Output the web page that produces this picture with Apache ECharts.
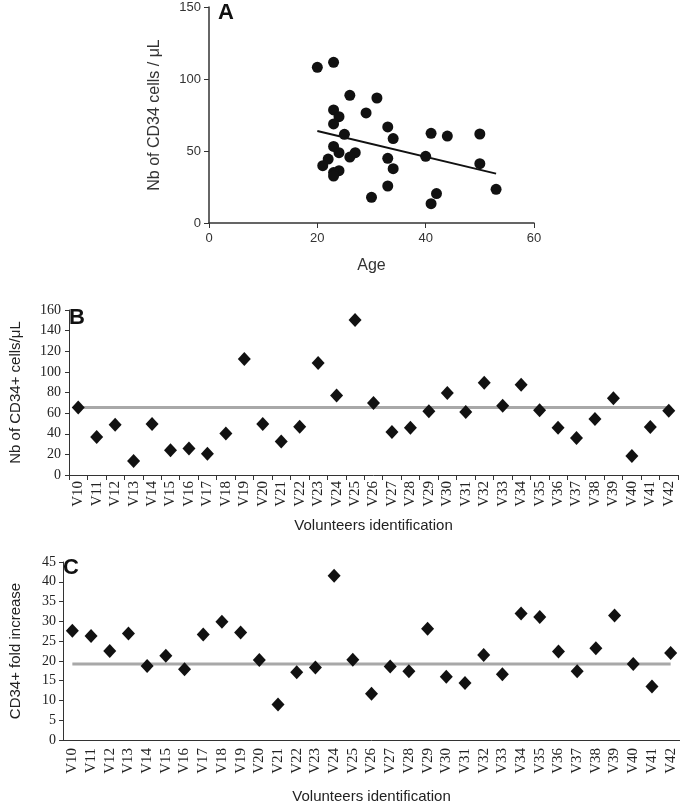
<!DOCTYPE html>
<html><head><meta charset="utf-8">
<script src="https://cdn.jsdelivr.net/npm/echarts@6/dist/echarts.min.js"></script>
<style>html,body{margin:0;padding:0;background:#fff}#c{width:680px;height:805px}</style>
</head><body><div id="c"></div>
<script>
// Panel A: age vs CD34 count
const ageA   = [20,23,26,31,23,24,29,23,25,33,34,41,44,50,23,24,27,26,22,21,33,40,50,34,24,23,23,33,30,42,41,53];
const countA = [108.1,111.6,88.7,86.8,78.5,73.8,76.4,68.8,61.6,66.7,58.6,62.3,60.4,61.8,53.2,48.8,48.8,45.8,44.4,39.8,44.9,46.3,41.2,37.7,36.3,35.0,32.6,25.7,17.8,20.4,13.4,23.4];
const regressionAge   = [20,53];
const regressionValue = [63.9,34.3];
const ageTicks = [0,20,40,60];
const countTicksA = [0,50,100,150];

// Panels B & C
const volunteers = ['V10','V11','V12','V13','V14','V15','V16','V17','V18','V19','V20','V21','V22','V23','V24','V25','V26','V27','V28','V29','V30','V31','V32','V33','V34','V35','V36','V37','V38','V39','V40','V41','V42'];
const countB = [65.5,36.8,48.7,13.5,49.4,23.9,25.8,20.6,40.3,112.6,49.4,32.6,46.8,108.7,77.1,150.3,69.7,41.6,45.8,61.9,79.4,61.0,89.4,67.1,87.4,62.9,45.8,35.8,54.2,74.5,18.4,46.5,62.3];
const meanB = 65.5;
const foldC = [27.6,26.3,22.5,26.9,18.7,21.3,17.9,26.7,29.9,27.2,20.2,9.0,17.1,18.3,41.5,20.3,11.7,18.6,17.4,28.1,16.0,14.4,21.5,16.6,32.0,31.1,22.4,17.4,23.2,31.5,19.2,13.5,22.0];
const meanC = 19.2;

const sans = 'Liberation Sans, Arial, sans-serif';
const serif = 'Liberation Serif, Times New Roman, serif';
const axisCol = '#333';

const chart = echarts.init(document.getElementById('c'), null, {renderer:'canvas'});
chart.setOption({
  animation:false,
  backgroundColor:'#fff',
  grid:[
    {left:209, top:7, width:325, height:216},
    {left:56, top:310, width:622, height:165},
    {left:48, top:562, width:632, height:186}
  ],
  xAxis:[
    {gridIndex:0, type:'value', min:ageTicks[0], max:ageTicks[ageTicks.length-1], interval:20,
     name:'Age', nameLocation:'middle', nameGap:35,
     nameTextStyle:{fontFamily:sans, fontSize:16, color:'#333'},
     axisLine:{lineStyle:{color:axisCol, width:1.5}}, axisTick:{show:true, length:5, lineStyle:{color:axisCol}},
     axisLabel:{fontFamily:sans, fontSize:13, color:'#333', margin:9}, splitLine:{show:false}},
    {gridIndex:1, type:'category', data:volunteers, boundaryGap:true,
     name:'Volunteers identification', nameLocation:'middle', nameGap:43,
     nameTextStyle:{fontFamily:sans, fontSize:15, color:'#222'},
     axisLine:{lineStyle:{color:axisCol}}, axisTick:{show:true, length:5, lineStyle:{color:axisCol}},
     axisLabel:{interval:0, rotate:90, fontFamily:serif, fontSize:15, color:'#222', margin:6}},
    {gridIndex:2, type:'category', data:volunteers, boundaryGap:true,
     name:'Volunteers identification', nameLocation:'middle', nameGap:49,
     nameTextStyle:{fontFamily:sans, fontSize:15, color:'#222'},
     axisLine:{lineStyle:{color:axisCol}}, axisTick:{show:false},
     axisLabel:{interval:0, rotate:90, fontFamily:serif, fontSize:15, color:'#222', margin:8}}
  ],
  yAxis:[
    {gridIndex:0, type:'value', min:countTicksA[0], max:countTicksA[countTicksA.length-1], interval:50,
     name:'Nb of CD34 cells / μL', nameLocation:'middle', nameGap:46,
     nameTextStyle:{fontFamily:sans, fontSize:16, color:'#333'},
     axisLine:{show:true, lineStyle:{color:axisCol, width:1.5}}, axisTick:{show:true, length:5, lineStyle:{color:axisCol}},
     axisLabel:{fontFamily:sans, fontSize:13, color:'#333', margin:8}, splitLine:{show:false}},
    {gridIndex:1, type:'value', min:0, max:160, interval:20,
     name:'Nb of CD34+ cells/μL', nameLocation:'middle', nameGap:46,
     nameTextStyle:{fontFamily:sans, fontSize:15, color:'#222'},
     axisLine:{show:true, lineStyle:{color:axisCol}}, axisTick:{show:true, length:4, lineStyle:{color:axisCol}},
     axisLabel:{fontFamily:serif, fontSize:14, color:'#222', margin:8}, splitLine:{show:false}},
    {gridIndex:2, type:'value', min:0, max:45, interval:5,
     name:'CD34+ fold increase', nameLocation:'middle', nameGap:40,
     nameTextStyle:{fontFamily:sans, fontSize:15, color:'#222'},
     axisLine:{show:true, lineStyle:{color:axisCol}}, axisTick:{show:true, length:4, lineStyle:{color:axisCol}},
     axisLabel:{fontFamily:serif, fontSize:14, color:'#222', margin:7}, splitLine:{show:false}}
  ],
  graphic:[
    {type:'text', left:218, top:2, style:{text:'A', font:'bold 22px Liberation Sans, Arial, sans-serif', fill:'#111'}},
    {type:'text', left:69, top:307, style:{text:'B', font:'bold 22px Liberation Sans, Arial, sans-serif', fill:'#111'}},
    {type:'text', left:63, top:557, style:{text:'C', font:'bold 22px Liberation Sans, Arial, sans-serif', fill:'#111'}}
  ],
  series:[
    {type:'scatter', xAxisIndex:0, yAxisIndex:0, symbol:'circle', symbolSize:11,
     itemStyle:{color:'#111', opacity:1}, data:ageA.map((a,i)=>[a,countA[i]]), z:3},
    {type:'line', xAxisIndex:0, yAxisIndex:0, symbol:'none',
     lineStyle:{color:'#111', width:2}, data:regressionAge.map((a,i)=>[a,regressionValue[i]]), z:2},
    {type:'line', xAxisIndex:1, yAxisIndex:1, symbol:'none',
     lineStyle:{color:'#a8a8a8', width:3}, data:volunteers.map(()=>meanB), z:1},
    {type:'scatter', xAxisIndex:1, yAxisIndex:1, symbol:'diamond', symbolSize:[13,14],
     itemStyle:{color:'#111', opacity:1}, data:countB, z:3},
    {type:'line', xAxisIndex:2, yAxisIndex:2, symbol:'none',
     lineStyle:{color:'#a8a8a8', width:3}, data:volunteers.map(()=>meanC), z:1},
    {type:'scatter', xAxisIndex:2, yAxisIndex:2, symbol:'diamond', symbolSize:[13,14],
     itemStyle:{color:'#111', opacity:1}, data:foldC, z:3}
  ]
});
</script></body></html>
